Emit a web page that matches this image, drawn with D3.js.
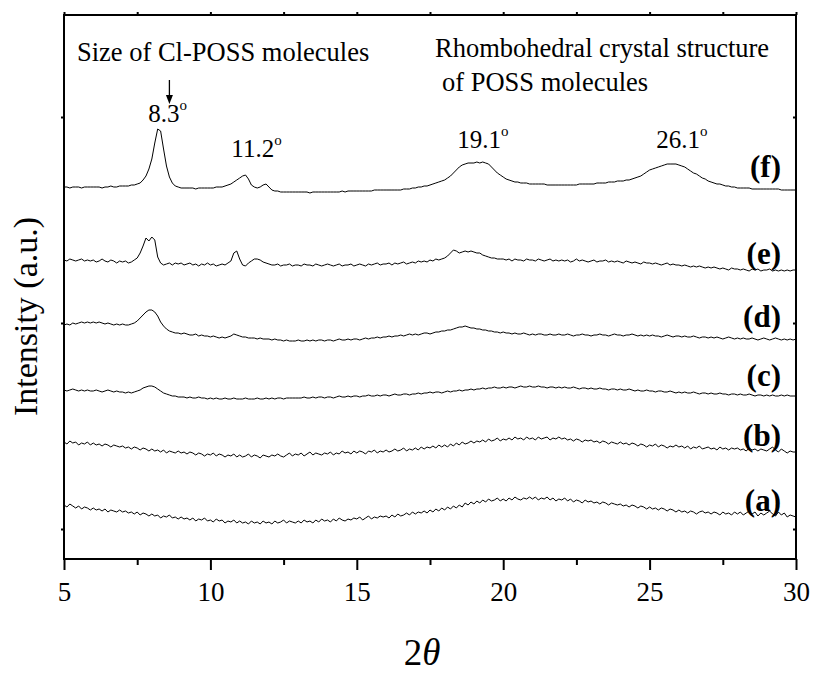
<!DOCTYPE html>
<html><head><meta charset="utf-8">
<script src="https://cdn.jsdelivr.net/npm/d3@7/dist/d3.min.js"></script>
<style>
html,body{margin:0;padding:0;background:#fff;}
</style></head>
<body><svg id="chart" width="815" height="673"></svg>
<script>
// 2θ sampling of the diffractograms
const twoThetaStart = 5.0;
const twoThetaStep = 0.1;
const xTicks = [5, 10, 15, 20, 25, 30];
const xMinorTicks = [7.5, 12.5, 17.5, 22.5, 27.5];
const yTicks = [0, 206, 412];
const seriesLabels = ["(a)", "(b)", "(c)", "(d)", "(e)", "(f)"];
const peakLabels = ["8.3", "11.2", "19.1", "26.1"];
const peakPositions = [8.3, 11.2, 19.1, 26.1];
const peakLabelHeights = [407, 372, 381, 381];

// intensities (a.u., stacked) from 5.0 to 30.0 step 0.1
const seriesA = [
24,22,25,23,21,23,20,22,21,19, 21,19,20,18,20,17,19,18,17,19,
17,18,16,17,15,17,14,16,15,13, 15,13,14,11,13,12,14,11,12,10,
12,10,11,9,11,8,10,9,11,8, 9,7,10,8,9,6,8,7,9,6,
8,6,7,5,8,6,7,5,8,6, 7,5,8,6,7,9,6,8,7,6,
8,6,9,7,8,6,9,7,10,8, 9,7,10,8,11,9,8,10,9,11,
10,12,9,11,13,10,12,11,13,12, 13,11,14,12,15,13,14,16,14,17,
15,17,16,18,16,19,17,20,18,21, 19,22,20,23,21,24,22,26,24,27,
25,28,26,29,27,30,28,29,31,28, 30,28,31,29,32,30,29,31,30,32,
30,32,29,31,30,32,29,31,28,30, 29,31,28,30,27,29,28,26,29,27,
28,26,27,25,27,26,24,26,25,24, 25,23,24,22,24,23,21,23,22,20,
22,20,21,19,21,20,18,20,19,17, 19,17,18,16,18,17,15,17,18,16,
17,15,17,16,14,17,15,16,14,17, 15,17,14,16,18,15,17,13,16,14,
16,18,15,13,17,14,16,12,14,13, 12];
const seriesB = [
87,85,88,86,87,84,86,85,87,84, 86,84,85,83,85,84,82,84,83,82,
83,81,82,80,82,81,79,81,80,78, 80,78,79,77,79,76,78,77,76,78,
76,77,75,77,76,74,76,75,73,75, 74,76,73,75,74,72,74,73,75,72,
74,72,73,75,72,74,73,71,74,73, 72,74,73,75,73,72,74,76,73,75,
74,76,73,75,77,74,76,75,74,76, 75,77,74,76,75,78,76,77,75,78,
76,78,77,75,78,77,79,76,78,77, 79,77,78,80,78,79,81,78,80,79,
81,79,82,80,82,81,83,81,84,82, 84,82,85,83,86,84,87,85,86,88,
86,88,87,89,87,90,88,89,91,88, 90,89,91,89,92,90,91,89,92,90,
91,89,92,90,91,92,89,91,90,92, 90,91,89,90,88,90,89,87,89,88,
89,87,88,86,88,87,85,87,86,85, 87,85,86,84,86,85,83,85,84,82,
84,83,85,82,84,83,81,83,82,84, 82,83,81,83,80,82,81,83,80,81,
82,80,81,79,82,80,81,79,81,80, 81,79,80,78,81,79,80,78,80,79,
78,80,82,79,77,80,78,76,78,77, 77];
const seriesC = [
139,138,139,140,139,138,139,138,139,138, 138,139,138,137,138,139,138,137,138,137,
137,136,137,136,137,138,139,141,142,143, 143,142,140,138,136,135,134,133,133,132,
132,132,131,132,131,131,132,131,131,130, 131,130,131,130,130,131,130,130,131,130,
130,130,131,130,130,130,131,130,130,131, 130,131,130,131,131,130,131,131,131,131,
131,131,132,131,131,132,131,132,132,131, 132,132,131,132,133,132,132,133,132,133,
133,132,133,133,134,133,133,134,133,134, 134,133,134,135,134,134,135,135,134,135,
135,136,135,136,136,137,136,137,137,136, 137,138,137,138,138,139,138,139,139,140,
139,140,140,141,140,141,141,142,141,141, 142,141,142,142,141,142,143,142,142,143,
142,142,143,142,142,141,142,142,141,142, 141,142,141,141,142,141,140,141,141,140,
141,140,140,141,140,140,139,140,140,139, 140,139,139,140,139,138,139,138,138,139,
138,138,137,138,138,137,137,138,137,136, 137,136,137,136,136,137,136,135,136,136,
135,136,135,135,136,135,135,134,135,135, 134,135,134,134,135,134,133,134,134,133,
134,133,134,133,133,134,133,134,133,133, 133];
const seriesD = [
204,205,204,206,205,206,207,206,207,206, 207,206,207,206,205,206,205,204,205,204,
205,204,204,205,206,208,211,214,217,219, 219,217,213,207,203,200,198,197,196,196,
195,196,195,194,194,195,193,194,193,193, 192,193,192,191,192,191,192,193,195,194,
193,192,192,191,191,191,190,191,190,190, 190,189,190,189,189,188,189,188,188,188,
189,188,188,189,188,189,188,189,189,188, 189,189,188,189,190,189,189,190,189,190,
190,189,190,191,190,191,191,192,191,192, 192,193,192,193,193,194,193,194,195,194,
195,194,195,196,196,195,196,197,197,198, 198,199,199,200,201,202,202,203,202,201,
201,200,200,199,199,198,198,197,197,196, 197,196,196,195,196,195,195,196,195,194,
195,194,195,195,194,194,195,194,194,195, 194,194,195,194,193,194,194,195,194,194,
193,194,194,195,194,194,193,194,195,194, 194,193,194,194,195,194,193,194,193,194,
193,194,193,193,192,193,194,193,192,193, 193,192,193,192,192,193,192,191,192,192,
191,192,191,192,191,190,191,192,191,190, 191,190,191,190,190,191,190,189,190,191,
190,189,190,191,190,189,190,189,190,189, 190];
const seriesE = [
269,268,270,269,268,269,270,268,269,268, 269,267,268,270,268,267,269,268,266,268,
267,268,266,267,269,271,276,283,291,288, 292,289,272,266,264,265,266,264,266,265,
266,264,265,266,264,265,263,265,264,266, 264,265,263,264,265,264,266,268,276,278,
270,264,263,266,268,270,270,269,267,266, 265,264,264,265,263,264,264,265,263,264,
264,263,265,264,264,263,265,264,263,264, 265,264,263,264,265,263,264,264,265,263,
264,265,264,263,265,264,265,266,264,265, 265,266,264,266,265,266,267,265,266,267,
266,268,267,268,267,269,268,270,269,270, 271,273,276,279,278,276,277,278,277,278,
277,276,276,274,273,272,271,271,270,270, 270,269,270,268,270,269,269,268,270,269,
269,268,270,269,268,269,270,268,269,268, 269,268,269,267,268,270,268,269,268,267,
268,269,267,268,268,269,267,268,267,268, 267,266,268,267,266,267,266,265,267,266,
266,265,266,265,264,265,266,264,265,264, 264,263,264,263,262,263,262,263,262,261,
262,261,262,261,260,261,260,259,261,260, 260,259,260,259,258,260,259,260,258,259,
259,260,258,259,258,259,258,259,258,259, 259];
const seriesF = [
342,342,341,342,342,342,341,342,342,342, 342,342,342,341,342,342,343,342,342,343,
343,343,343,344,344,345,346,349,353,360, 370,386,400,398,380,363,352,346,343,342,
341,341,341,341,341,340,341,341,341,341, 341,341,342,342,342,343,344,345,347,349,
351,353,354,350,344,342,341,342,344,345, 342,339,338,338,337,337,337,337,337,337,
337,337,337,337,336,337,337,337,337,337, 337,337,337,337,337,338,337,338,338,338,
338,338,338,338,338,338,339,339,339,339, 339,339,339,339,339,339,340,340,340,341,
341,342,342,343,343,344,345,346,347,348, 349,351,353,356,359,362,364,365,366,366,
366,367,366,367,366,365,362,359,356,354, 352,350,349,348,347,347,346,346,346,345,
345,345,345,345,345,344,344,344,344,344, 344,344,344,344,344,344,345,345,345,345,
345,345,346,346,346,346,347,347,347,348, 348,348,349,349,350,351,352,353,355,357,
359,360,361,362,363,364,365,365,365,365, 364,363,362,360,358,356,355,353,351,350,
348,347,346,345,345,344,343,343,342,342, 341,341,341,341,341,340,340,340,340,340,
340,340,340,340,340,339,339,339,339,339, 339];
const allSeries = [seriesA, seriesB, seriesC, seriesD, seriesE, seriesF];

const FONT = "'Liberation Serif', 'Times New Roman', Times, serif";
const svg = d3.select("#chart");
const L = 64, R = 796, T = 15, B = 559;
const x = d3.scaleLinear().domain([5, 30]).range([L, R]);
const y = d3.scaleLinear().domain([-30, 514]).range([B, T]);

const line = d3.line()
  .x((d, i) => x(twoThetaStart + i * twoThetaStep))
  .y(d => y(d));

svg.append("g").selectAll("path").data(allSeries).join("path")
  .attr("d", line).attr("fill", "none").attr("stroke", "#000")
  .attr("stroke-width", 1).attr("stroke-linejoin", "round");

// axes
const axB = svg.append("g").attr("transform", `translate(0,${B})`)
  .call(d3.axisBottom(x).tickValues(xTicks).tickSize(11).tickPadding(12).tickFormat(d3.format("d")));
const axBm = svg.append("g").attr("transform", `translate(0,${B})`)
  .call(d3.axisBottom(x).tickValues(xMinorTicks).tickSize(6).tickFormat(""));
const axT = svg.append("g").attr("transform", `translate(0,${T})`)
  .call(d3.axisTop(x).tickValues(xTicks.concat(xMinorTicks)).tickSize(3).tickFormat(""));
const axL = svg.append("g").attr("transform", `translate(${L},0)`)
  .call(d3.axisLeft(y).tickValues(yTicks).tickSize(3).tickFormat(""));
const axR = svg.append("g").attr("transform", `translate(${R},0)`)
  .call(d3.axisLeft(y).tickValues(yTicks).tickSize(3).tickFormat(""));
[axB, axBm, axT, axL, axR].forEach(g => {
  g.select(".domain").remove();
  g.attr("font-family", null);
  g.selectAll("line").attr("stroke", "#000").attr("stroke-width", 2);
});
axB.selectAll("text").attr("font-size", 27).style("font-family", FONT).attr("fill", "#000");

svg.append("rect").attr("x", L).attr("y", T).attr("width", R - L).attr("height", B - T)
  .attr("fill", "none").attr("stroke", "#000").attr("stroke-width", 2);

// axis titles
svg.append("text").attr("transform", `translate(37,${(213 + 420) / 2}) rotate(-90)`)
  .attr("text-anchor", "middle").attr("font-size", 34).style("font-family", FONT).text("Intensity (a.u.)");
const xt = svg.append("text").attr("x", 422).attr("y", 665).attr("text-anchor", "middle")
  .attr("font-size", 37).style("font-family", FONT);
xt.append("tspan").text("2");
xt.append("tspan").attr("font-style", "italic").text("θ");

// series labels
const labelBase = [511, 446, 386, 327, 264, 177];
svg.append("g").selectAll("text").data(seriesLabels).join("text")
  .attr("x", 781).attr("y", (d, i) => labelBase[i]).attr("text-anchor", "end")
  .attr("font-size", 31).attr("font-weight", "bold").style("font-family", FONT).text(d => d);

// peak labels
const peakLabelShift = [3, 7, 2, -4];
peakLabels.forEach((p, i) => {
  const t = svg.append("text").attr("x", x(peakPositions[i]) + peakLabelShift[i] + 4).attr("y", y(peakLabelHeights[i]))
    .attr("text-anchor", "middle").attr("font-size", 25).style("font-family", FONT);
  t.append("tspan").text(p);
  t.append("tspan").attr("font-size", 15).attr("dy", -12).text("o");
});

// annotations
const ann = [["Size of Cl-POSS molecules", 77, 61], ["Rhombohedral crystal structure", 435, 57], ["of POSS molecules", 442, 91]];
ann.forEach(a => svg.append("text").attr("x", a[1]).attr("y", a[2]).attr("font-size", 26.5)
  .style("font-family", FONT).text(a[0]));

// arrow
const ax = x(8.6);
svg.append("line").attr("x1", ax).attr("x2", ax).attr("y1", 80).attr("y2", 97)
  .attr("stroke", "#000").attr("stroke-width", 1.3);
svg.append("path").attr("d", `M${ax - 3.5},95 L${ax + 3.5},95 L${ax},104 Z`).attr("fill", "#000");
</script></body></html>
